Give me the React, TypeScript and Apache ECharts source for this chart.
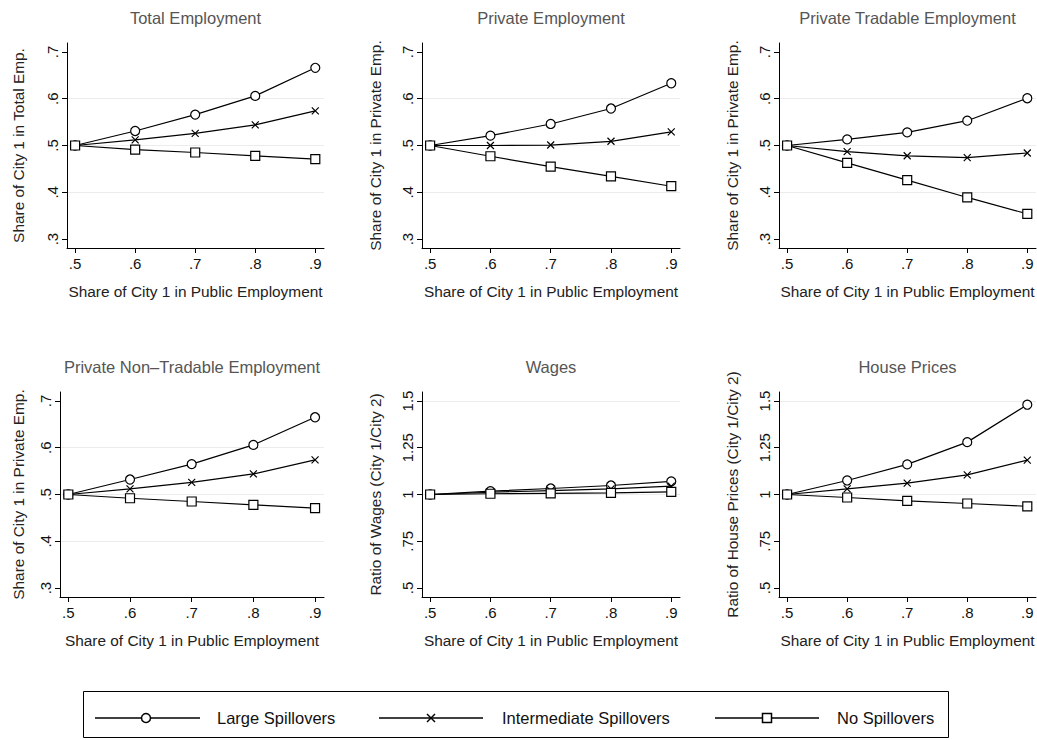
import React, { useEffect, useRef } from "react";
import * as echarts from "echarts";

const xValues = [0.5, 0.6, 0.7, 0.8, 0.9];
const xTicks = [0.5, 0.6, 0.7, 0.8, 0.9];
const shareTicks = [0.3, 0.4, 0.5, 0.6, 0.7];
const ratioTicks = [0.5, 0.75, 1, 1.25, 1.5];
const shareGrid = [0.4, 0.5, 0.6];
const ratioGrid = [1, 1.5];

const seriesNames = ["Large Spillovers", "Intermediate Spillovers", "No Spillovers"];

const panelTitles = [
  "Total Employment",
  "Private Employment",
  "Private Tradable Employment",
  "Private Non–Tradable Employment",
  "Wages",
  "House Prices",
];
const yTitles = [
  "Share of City 1 in Total Emp.",
  "Share of City 1 in Private Emp.",
  "Share of City 1 in Private Emp.",
  "Share of City 1 in Private Emp.",
  "Ratio of Wages (City 1/City 2)",
  "Ratio of House Prices (City 1/City 2)",
];
const xTitle = "Share of City 1 in Public Employment";

// values per panel: [large, intermediate, none]
const totalLarge = [0.5, 0.531, 0.566, 0.606, 0.666];
const totalInter = [0.5, 0.512, 0.526, 0.544, 0.574];
const totalNone = [0.5, 0.491, 0.485, 0.478, 0.471];

const privLarge = [0.5, 0.521, 0.546, 0.579, 0.633];
const privInter = [0.5, 0.5, 0.501, 0.509, 0.529];
const privNone = [0.5, 0.477, 0.455, 0.434, 0.413];

const tradLarge = [0.5, 0.513, 0.528, 0.553, 0.601];
const tradInter = [0.5, 0.487, 0.478, 0.474, 0.484];
const tradNone = [0.5, 0.463, 0.426, 0.389, 0.354];

const nonTradLarge = [0.5, 0.532, 0.565, 0.606, 0.665];
const nonTradInter = [0.5, 0.512, 0.526, 0.544, 0.574];
const nonTradNone = [0.5, 0.492, 0.485, 0.478, 0.471];

const wageLarge = [1, 1.018, 1.032, 1.048, 1.07];
const wageInter = [1, 1.012, 1.021, 1.03, 1.045];
const wageNone = [1, 1.004, 1.006, 1.009, 1.014];

const houseLarge = [1, 1.075, 1.161, 1.28, 1.48];
const houseInter = [1, 1.03, 1.061, 1.105, 1.184];
const houseNone = [1, 0.984, 0.966, 0.952, 0.937];

const panelData = [
  [totalLarge, totalInter, totalNone],
  [privLarge, privInter, privNone],
  [tradLarge, tradInter, tradNone],
  [nonTradLarge, nonTradInter, nonTradNone],
  [wageLarge, wageInter, wageNone],
  [houseLarge, houseInter, houseNone],
];

const FONT = "Liberation Sans, Arial, Helvetica, sans-serif";
const CROSS = "path://M0,0L10,10M10,0L0,10";

const fmt = (v: number) => {
  const s = String(Math.round(v * 100) / 100);
  return s.startsWith("0.") ? s.slice(1) : s;
};

export default function App() {
  const ref = useRef<HTMLDivElement>(null);
  useEffect(() => {
    if (!ref.current) return;
    const chart = echarts.init(ref.current, null, { renderer: "svg" });

    const grids = [
      { left: 67, top: 43, width: 257, height: 205 },
      { left: 422, top: 43, width: 258, height: 205 },
      { left: 779, top: 43, width: 257, height: 205 },
      { left: 60, top: 392, width: 264, height: 205 },
      { left: 422, top: 392, width: 258, height: 205 },
      { left: 779, top: 392, width: 257, height: 205 },
    ];
    const yNameGaps = [41, 39, 39, 34, 39, 39];

    const xAxes: any[] = [];
    const yAxes: any[] = [];
    const series: any[] = [];
    const titles: any[] = [];

    grids.forEach((g, i) => {
      const isRatio = i >= 4;
      const yt = isRatio ? ratioTicks : shareTicks;
      const ymin = isRatio ? 0.452 : 0.281;
      const ymax = isRatio ? 1.548 : 0.719;
      xAxes.push({
        type: "value",
        gridIndex: i,
        min: 0.4865,
        max: 0.9145,
        name: xTitle,
        nameLocation: "middle",
        nameGap: 36,
        nameTextStyle: { fontFamily: FONT, fontSize: 15.4, color: "#222" },
        axisLine: { show: true, onZero: false, lineStyle: { color: "#000", width: 1 } },
        axisTick: { show: true, length: 5, customValues: xTicks, lineStyle: { color: "#000" } },
        axisLabel: {
          customValues: xTicks,
          formatter: fmt,
          fontFamily: FONT,
          fontSize: 15,
          color: "#111",
          margin: 8,
        },
        splitLine: { show: false },
      });
      yAxes.push({
        type: "value",
        gridIndex: i,
        min: ymin,
        max: ymax,
        name: yTitles[i],
        nameLocation: "middle",
        nameGap: yNameGaps[i],
        nameTextStyle: { fontFamily: FONT, fontSize: 15.4, color: "#222" },
        axisLine: { show: true, onZero: false, lineStyle: { color: "#000", width: 1 } },
        axisTick: { show: true, length: 5, customValues: yt, lineStyle: { color: "#000" } },
        axisLabel: {
          customValues: yt,
          formatter: fmt,
          rotate: 90,
          fontFamily: FONT,
          fontSize: 15,
          color: "#111",
          margin: 7,
        },
        splitLine: { show: false },
      });
      titles.push({
        text: panelTitles[i],
        left: g.left + g.width / 2,
        top: g.top - 34,
        textAlign: "center",
        padding: 0,
        textStyle: { fontFamily: FONT, fontSize: 16.5, fontWeight: "normal", color: "#555" },
      });
      // light horizontal grid lines
      series.push({
        type: "line",
        xAxisIndex: i,
        yAxisIndex: i,
        data: [],
        silent: true,
        z: 0,
        markLine: {
          z: 0,
          silent: true,
          symbol: ["none", "none"],
          label: { show: false },
          lineStyle: { color: "#ececec", type: "solid", width: 1 },
          data: (isRatio ? ratioGrid : shareGrid).map((v) => ({ yAxis: v })),
        },
      });
      const symbols = ["circle", CROSS, "rect"];
      const sizes = [9, 7, 9];
      panelData[i].forEach((vals, k) => {
        series.push({
          type: "line",
          name: seriesNames[k],
          xAxisIndex: i,
          yAxisIndex: i,
          z: 3 + k,
          data: xValues.map((x, j) => [x, vals[j]]),
          symbol: symbols[k],
          symbolSize: sizes[k],
          showAllSymbol: true,
          lineStyle: { color: "#000", width: 1.2 },
          itemStyle: {
            color: k === 1 ? "#000" : "#fff",
            borderColor: "#000",
            borderWidth: 1.2,
          },
        });
      });
    });

    const ly = 718;
    const lf = `16.5px ${FONT}`;
    const legendGraphics: any[] = [
      {
        type: "rect",
        shape: { x: 83.5, y: 691.5, width: 865, height: 46 },
        style: { fill: "#fff", stroke: "#000", lineWidth: 1 },
      },
      // Large
      { type: "line", shape: { x1: 95, y1: ly, x2: 200, y2: ly }, style: { stroke: "#000", lineWidth: 1.5 } },
      { type: "circle", shape: { cx: 146, cy: ly, r: 4.5 }, style: { fill: "#fff", stroke: "#000", lineWidth: 1.5 } },
      { type: "text", x: 217, y: ly, style: { text: seriesNames[0], font: lf, fill: "#111", verticalAlign: "middle" } },
      // Intermediate
      { type: "line", shape: { x1: 379, y1: ly, x2: 483, y2: ly }, style: { stroke: "#000", lineWidth: 1.5 } },
      { type: "line", shape: { x1: 427, y1: ly - 4, x2: 435, y2: ly + 4 }, style: { stroke: "#000", lineWidth: 1.5 } },
      { type: "line", shape: { x1: 435, y1: ly - 4, x2: 427, y2: ly + 4 }, style: { stroke: "#000", lineWidth: 1.5 } },
      { type: "text", x: 502, y: ly, style: { text: seriesNames[1], font: lf, fill: "#111", verticalAlign: "middle" } },
      // None
      { type: "line", shape: { x1: 715, y1: ly, x2: 819, y2: ly }, style: { stroke: "#000", lineWidth: 1.5 } },
      { type: "rect", shape: { x: 762.5, y: ly - 4.5, width: 9, height: 9 }, style: { fill: "#fff", stroke: "#000", lineWidth: 1.5 } },
      { type: "text", x: 837, y: ly, style: { text: seriesNames[2], font: lf, fill: "#111", verticalAlign: "middle" } },
    ];

    chart.setOption({
      animation: false,
      backgroundColor: "#fff",
      title: titles,
      grid: grids.map((g) => ({ ...g, containLabel: false })),
      xAxis: xAxes,
      yAxis: yAxes,
      series,
      graphic: legendGraphics,
    });
    return () => chart.dispose();
  }, []);
  return (
    <div
      ref={ref}
      style={{ position: "absolute", left: 0, top: 0, width: 1037, height: 740 }}
    />
  );
}
